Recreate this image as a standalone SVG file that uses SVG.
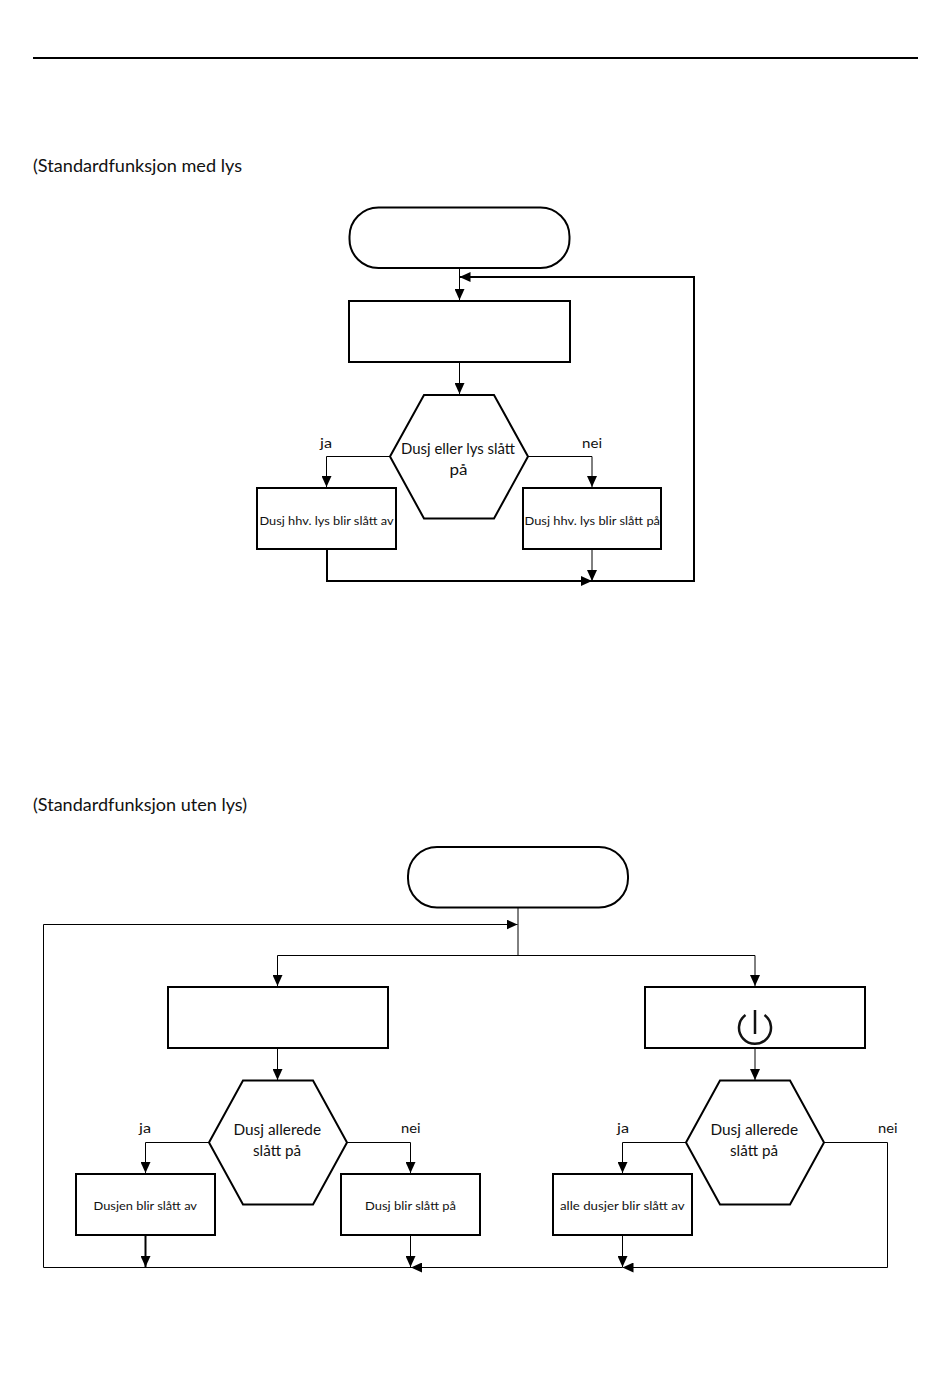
<svg xmlns="http://www.w3.org/2000/svg" width="950" height="1378" viewBox="0 0 950 1378">
<style>
text{font-family:"Lato","Open Sans","Liberation Sans",sans-serif;fill:#111;font-weight:400}
.h{font-size:17.5px}.m{font-size:14.5px}.s{font-size:11.5px}.l{font-size:13.5px}
.n{fill:#fff;stroke:#000;stroke-width:2}
.c{fill:none;stroke:#000;stroke-width:1}
.a{fill:none;stroke:#000;stroke-width:1;marker-end:url(#ah)}
.b{fill:none;stroke:#000;stroke-width:2;marker-end:url(#ah)}
</style>
<defs>
<marker id="ah" markerUnits="userSpaceOnUse" markerWidth="12" markerHeight="10" refX="11" refY="5" orient="auto"><path d="M0 0L11 5L0 10Z" fill="#000"/></marker>
</defs>
<rect width="950" height="1378" fill="#fff"/>
<line x1="33" y1="58" x2="918" y2="58" stroke="#000" stroke-width="2"/>
<text class="h" x="33" y="172" textLength="209" lengthAdjust="spacingAndGlyphs">(Standardfunksjon med lys</text>
<text class="h" x="33" y="811" textLength="214" lengthAdjust="spacingAndGlyphs">(Standardfunksjon uten lys)</text>
<g id="connectors">
<path class="a" d="M459.500 268V300"/>
<path class="b" d="M592 581H694V277H459.500"/>
<path class="a" d="M459.500 362V394"/>
<path class="a" d="M390 456.500H326.500V487"/>
<path class="a" d="M528 456.500H592V487"/>
<path class="b" d="M327 549V581H592"/>
<path class="a" d="M592 549V581"/>
<path class="a" d="M518 907V955.500H277.500V986"/>
<path class="a" d="M518 955.500H755V986"/>
<path class="a" d="M145 1267.500H43.500V924.500H517.500"/>
<path class="a" d="M277.500 1048V1080"/>
<path class="a" d="M755 1048V1080"/>
<path class="a" d="M209 1142.500H145.500V1173"/>
<path class="a" d="M347 1142.500H410.500V1173"/>
<path class="a" d="M686 1142.500H622.500V1173"/>
<path class="b" d="M145.500 1235V1267"/>
<path class="a" d="M410.500 1235V1267"/>
<path class="a" d="M622.500 1235V1267"/>
<path class="a" d="M824 1142.500H887.500V1267.500H622.500"/>
<path class="a" d="M622.500 1267.500H411"/>
<path class="c" d="M411 1267.500H145"/>
</g>
<g id="start1"><rect class="n" x="349.500" y="207.500" width="220" height="60.500" rx="29"/></g>
<g id="step1"><rect class="n" x="349" y="301" width="221" height="61"/></g>
<g id="dec1"><polygon class="n" points="390,456.500 424,395 494,395 528,456.500 494,518.500 424,518.500"/>
<text class="m" x="401" y="454" textLength="114" lengthAdjust="spacingAndGlyphs">Dusj eller lys slått</text>
<text class="m" x="449.500" y="475" textLength="18" lengthAdjust="spacingAndGlyphs">på</text></g>
<text class="l" x="320" y="448" textLength="12" lengthAdjust="spacingAndGlyphs">ja</text>
<text class="l" x="582" y="448" textLength="20" lengthAdjust="spacingAndGlyphs">nei</text>
<g id="off1"><rect class="n" x="257" y="488" width="139" height="61"/>
<text class="s" x="259.500" y="524.500" textLength="134" lengthAdjust="spacingAndGlyphs">Dusj hhv. lys blir slått av</text></g>
<g id="on1"><rect class="n" x="523" y="488" width="138" height="61"/>
<text class="s" x="524.500" y="524.500" textLength="135.500" lengthAdjust="spacingAndGlyphs">Dusj hhv. lys blir slått på</text></g>
<g id="start2"><rect class="n" x="408" y="847" width="220" height="60.500" rx="29"/></g>
<g id="step2"><rect class="n" x="168" y="987" width="220" height="61"/></g>
<g id="step3"><rect class="n" x="645" y="987" width="220" height="61"/>
<path d="M745.500 1015A16 16 0 1 0 764.500 1015" fill="none" stroke="#111" stroke-width="2.500"/>
<path d="M755 1010V1034" fill="none" stroke="#111" stroke-width="2.500"/></g>
<g id="dec2"><polygon class="n" points="209,1142.500 243,1080.500 313,1080.500 347,1142.500 313,1204.500 243,1204.500"/>
<text class="m" x="233.500" y="1135" textLength="87.500" lengthAdjust="spacingAndGlyphs">Dusj allerede</text>
<text class="m" x="253" y="1156" textLength="48" lengthAdjust="spacingAndGlyphs">slått på</text></g>
<g id="dec3"><polygon class="n" points="686,1142.500 720,1080.500 790,1080.500 824,1142.500 790,1204.500 720,1204.500"/>
<text class="m" x="710.500" y="1135" textLength="87.500" lengthAdjust="spacingAndGlyphs">Dusj allerede</text>
<text class="m" x="730" y="1156" textLength="48" lengthAdjust="spacingAndGlyphs">slått på</text></g>
<text class="l" x="139" y="1133" textLength="12" lengthAdjust="spacingAndGlyphs">ja</text>
<text class="l" x="401" y="1133" textLength="19.500" lengthAdjust="spacingAndGlyphs">nei</text>
<text class="l" x="617" y="1133" textLength="12" lengthAdjust="spacingAndGlyphs">ja</text>
<text class="l" x="878" y="1133" textLength="19.500" lengthAdjust="spacingAndGlyphs">nei</text>
<g id="off2"><rect class="n" x="76" y="1174" width="139" height="61"/>
<text class="s" x="93.500" y="1210" textLength="103.500" lengthAdjust="spacingAndGlyphs">Dusjen blir slått av</text></g>
<g id="on2"><rect class="n" x="341" y="1174" width="139" height="61"/>
<text class="s" x="365" y="1210" textLength="91" lengthAdjust="spacingAndGlyphs">Dusj blir slått på</text></g>
<g id="off3"><rect class="n" x="553" y="1174" width="139" height="61"/>
<text class="s" x="560" y="1210" textLength="124.500" lengthAdjust="spacingAndGlyphs">alle dusjer blir slått av</text></g>
</svg>
